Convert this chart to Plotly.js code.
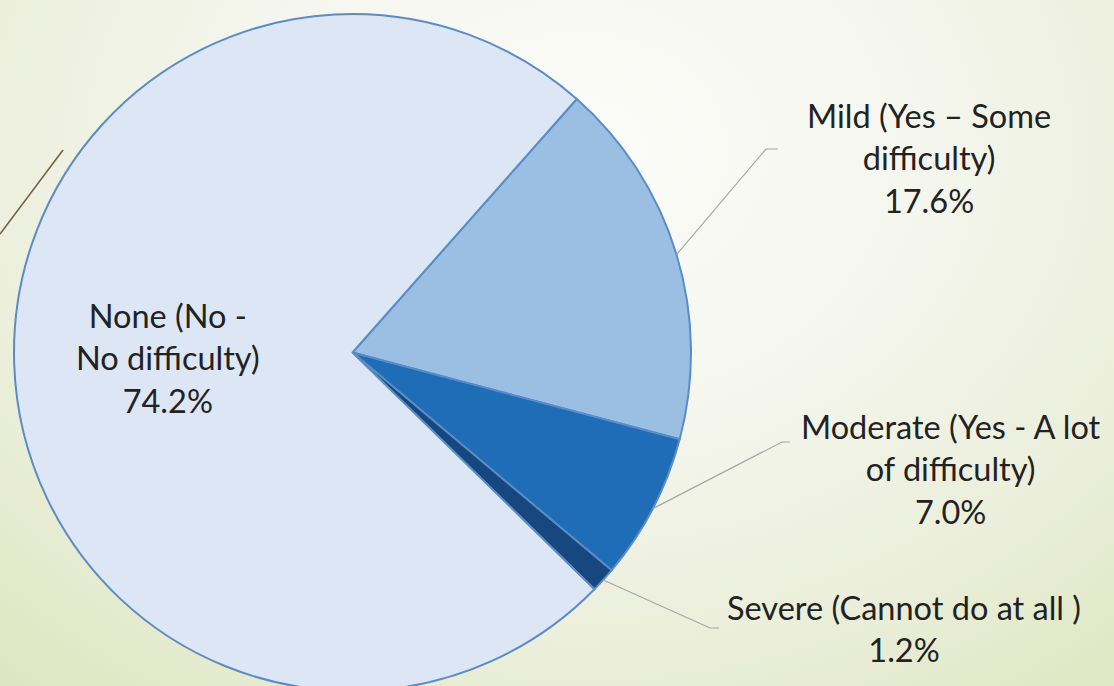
<!DOCTYPE html>
<html>
<head>
<meta charset="utf-8">
<script src="https://cdn.plot.ly/plotly-3.0.1.min.js"></script>
<style>
  html, body { margin: 0; padding: 0; width: 1114px; height: 686px; overflow: hidden; }
  body {
    background: radial-gradient(ellipse 85% 110% at 52% 22%, #fcfcf9 0%, #f5f6ee 35%, #eaeed9 68%, #dfe7c3 90%, #dae4b9 100%);
  }
  #chart { width: 1114px; height: 700px; }
</style>
</head>
<body>
<div id="chart"></div>
<script>
// ---- data ----
const categories = [
  'Mild (Yes – Some difficulty)',
  'Moderate (Yes - A lot of difficulty)',
  'Severe (Cannot do at all )',
  'None (No - No difficulty)'
];
const labelLines = [
  'Mild (Yes – Some<br>difficulty)',
  'Moderate (Yes - A lot<br>of difficulty)',
  'Severe (Cannot do at all )',
  'None (No -<br>No difficulty)'
];
const values = [17.6, 7.0, 1.2, 74.2];
const colors = ['#9bbfe3', '#1f6db6', '#16487f', '#dce6f5'];

// ---- layout geometry (pixels) ----
const W = 1114, H = 700;
const pieBox = { x0: 14, x1: 691, y0: 14, y1: 691 };
const rotationDeg = 41.5;
// label anchor positions [cx, cy] and leader elbow points
const labelPos = [[929, 158], [951, 469], [904, 628], [168, 358]];
const leaderElbow = [[[766, 149], [778, 149]], [[782, 442], [790, 442]], [[710, 628], [719, 628]], null];

const px = x => x / W;
const py = y => 1 - y / H;

const cx = (pieBox.x0 + pieBox.x1) / 2, cy = (pieBox.y0 + pieBox.y1) / 2;
const R = (pieBox.x1 - pieBox.x0) / 2;
const total = values.reduce((a, b) => a + b, 0);

const annotations = [];
const shapes = [];
let cum = 0;
values.forEach((v, i) => {
  const mid = (rotationDeg + 360 * (cum + v / 2) / total) * Math.PI / 180;
  cum += v;
  annotations.push({
    xref: 'paper', yref: 'paper', x: px(labelPos[i][0]), y: py(labelPos[i][1]),
    xanchor: 'center', yanchor: 'middle', align: 'center', showarrow: false,
    text: labelLines[i] + '<br>' + v.toFixed(1) + '%',
    font: { family: 'Lato, "Open Sans", sans-serif', size: 32.5, color: '#222222' }
  });
  if (leaderElbow[i]) {
    const sx = cx + R * Math.sin(mid), sy = cy - R * Math.cos(mid);
    const e1 = leaderElbow[i][0], e2 = leaderElbow[i][1];
    shapes.push({
      type: 'path', xref: 'paper', yref: 'paper',
      path: `M ${px(sx)} ${py(sy)} L ${px(e1[0])} ${py(e1[1])} L ${px(e2[0])} ${py(e2[1])}`,
      line: { color: '#a6a6a6', width: 1.2 }
    });
  }
});
// decorative slide line (upper left)
shapes.push({
  type: 'line', xref: 'paper', yref: 'paper',
  x0: px(63), y0: py(150), x1: px(0), y1: py(234),
  line: { color: '#6e6142', width: 1.5 }
});

const trace = {
  type: 'pie',
  labels: categories,
  values: values,
  sort: false,
  direction: 'clockwise',
  rotation: rotationDeg,
  textinfo: 'none',
  hoverinfo: 'skip',
  marker: { colors: colors, line: { color: '#5a8cc6', width: 2 } },
  domain: { x: [px(pieBox.x0), px(pieBox.x1)], y: [py(pieBox.y1), py(pieBox.y0)] }
};

const layout = {
  width: W, height: H,
  margin: { l: 0, r: 0, t: 0, b: 0 },
  paper_bgcolor: 'rgba(0,0,0,0)',
  plot_bgcolor: 'rgba(0,0,0,0)',
  showlegend: false,
  annotations: annotations,
  shapes: shapes
};

Plotly.newPlot('chart', [trace], layout, { displayModeBar: false, staticPlot: true });
</script>
</body>
</html>
